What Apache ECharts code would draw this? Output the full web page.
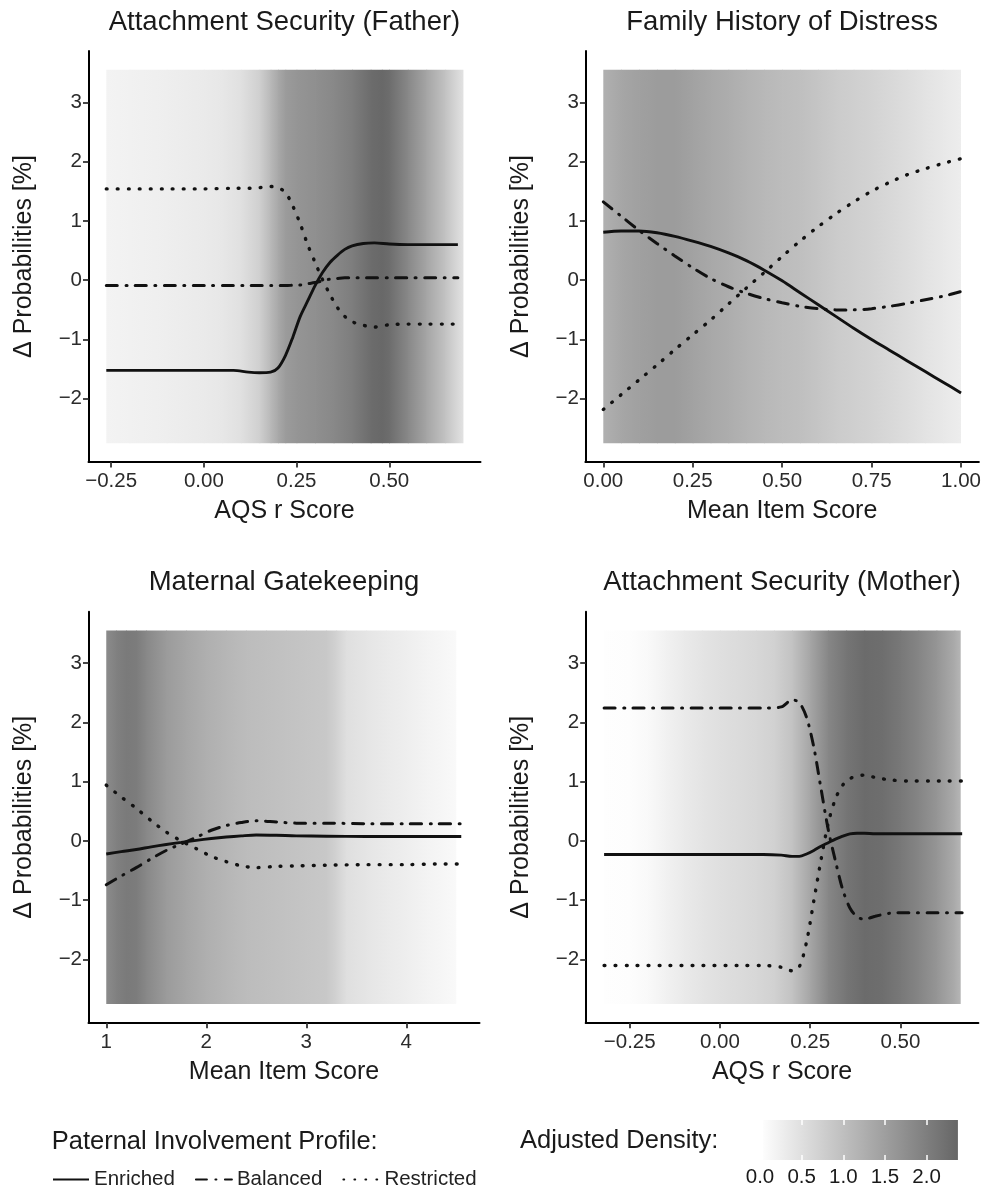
<!DOCTYPE html>
<html>
<head>
<meta charset="utf-8">
<script src="https://cdn.jsdelivr.net/npm/echarts@6.0.0/dist/echarts.min.js"></script>
<style>
  html, body { margin: 0; padding: 0; background: #fff; }
  #chart { width: 988px; height: 1191px; }
</style>
</head>
<body>
<div id="chart"></div>
<script>
// tick labels
const probTicks = [-2, -1, 0, 1, 2, 3];
const aqsTicks = [-0.25, 0, 0.25, 0.5];
const unitTicks = [0, 0.25, 0.5, 0.75, 1];
const gateTicks = [1, 2, 3, 4];
const densityTicks = [0, 0.5, 1, 1.5, 2];

// Attachment Security (Father)
const fatherX = [-0.263, -0.2, -0.1, 0.0, 0.08, 0.12, 0.15, 0.18, 0.2, 0.22, 0.24, 0.26, 0.28, 0.30, 0.32, 0.34, 0.36, 0.38, 0.40, 0.43, 0.46, 0.50, 0.55, 0.60, 0.65, 0.685];
const fatherEnriched = [-1.52, -1.52, -1.52, -1.52, -1.52, -1.55, -1.56, -1.55, -1.48, -1.27, -0.96, -0.61, -0.35, -0.09, 0.13, 0.30, 0.42, 0.52, 0.58, 0.62, 0.63, 0.61, 0.60, 0.60, 0.60, 0.60];
const fatherBalanced = [-0.09, -0.09, -0.09, -0.09, -0.09, -0.09, -0.09, -0.09, -0.09, -0.09, -0.085, -0.08, -0.06, -0.04, -0.01, 0.02, 0.03, 0.04, 0.04, 0.04, 0.04, 0.04, 0.04, 0.04, 0.04, 0.04];
const fatherRestricted = [1.54, 1.54, 1.54, 1.54, 1.55, 1.55, 1.56, 1.58, 1.56, 1.48, 1.25, 0.95, 0.60, 0.30, 0.01, -0.24, -0.46, -0.61, -0.70, -0.76, -0.79, -0.75, -0.74, -0.74, -0.74, -0.74];
const fatherDensX = [-0.263, -0.2, -0.1, 0.0, 0.05, 0.1, 0.15, 0.18, 0.2, 0.22, 0.25, 0.3, 0.35, 0.4, 0.45, 0.48, 0.5, 0.55, 0.6, 0.65, 0.7];
const fatherDens = [0.18, 0.21, 0.26, 0.32, 0.38, 0.48, 0.75, 1.10, 1.35, 1.55, 1.65, 1.74, 1.85, 2.02, 2.28, 2.34, 2.26, 1.85, 1.40, 0.95, 0.45];

// Family History of Distress
const historyX = [0, 0.05, 0.1, 0.15, 0.2, 0.25, 0.3, 0.35, 0.4, 0.45, 0.5, 0.55, 0.6, 0.65, 0.7, 0.75, 0.8, 0.85, 0.9, 0.95, 1.0];
const historyEnriched = [0.81, 0.83, 0.83, 0.80, 0.74, 0.66, 0.57, 0.46, 0.33, 0.17, -0.01, -0.21, -0.41, -0.61, -0.81, -1.0, -1.18, -1.36, -1.54, -1.72, -1.90];
const historyBalanced = [1.32, 1.08, 0.84, 0.62, 0.41, 0.21, 0.03, -0.11, -0.22, -0.31, -0.38, -0.44, -0.48, -0.50, -0.50, -0.48, -0.44, -0.39, -0.33, -0.27, -0.19];
const historyRestricted = [-2.18, -1.93, -1.68, -1.43, -1.17, -0.92, -0.67, -0.40, -0.13, 0.13, 0.40, 0.66, 0.90, 1.12, 1.32, 1.50, 1.65, 1.78, 1.88, 1.97, 2.05];
const historyDensX = [0, 0.05, 0.1, 0.15, 0.2, 0.25, 0.3, 0.35, 0.4, 0.45, 0.5, 0.55, 0.6, 0.65, 0.7, 0.75, 0.8, 0.85, 0.9, 0.95, 1.0];
const historyDens = [1.23, 1.38, 1.48, 1.54, 1.53, 1.45, 1.35, 1.27, 1.18, 1.10, 1.04, 0.99, 0.90, 0.81, 0.75, 0.68, 0.61, 0.53, 0.44, 0.36, 0.28];

// Maternal Gatekeeping
const gateX = [1.0, 1.15, 1.3, 1.45, 1.6, 1.75, 1.9, 2.05, 2.2, 2.35, 2.5, 2.7, 2.9, 3.2, 3.6, 4.0, 4.3, 4.55];
const gateEnriched = [-0.22, -0.18, -0.145, -0.10, -0.06, -0.025, 0.01, 0.04, 0.065, 0.085, 0.10, 0.095, 0.085, 0.08, 0.075, 0.075, 0.075, 0.075];
const gateBalanced = [-0.74, -0.59, -0.45, -0.30, -0.16, -0.05, 0.06, 0.18, 0.26, 0.31, 0.34, 0.32, 0.30, 0.30, 0.29, 0.29, 0.29, 0.29];
const gateRestricted = [0.94, 0.74, 0.55, 0.34, 0.15, 0.0, -0.13, -0.26, -0.35, -0.42, -0.45, -0.43, -0.42, -0.41, -0.40, -0.40, -0.39, -0.39];
const gateDensX = [1.0, 1.1, 1.2, 1.3, 1.4, 1.6, 1.8, 2.0, 2.2, 2.4, 2.6, 2.8, 3.0, 3.2, 3.3, 3.4, 3.6, 3.8, 4.0, 4.2, 4.4, 4.5];
const gateDens = [1.80, 1.98, 2.06, 2.04, 1.85, 1.55, 1.38, 1.25, 1.13, 1.04, 0.99, 0.95, 0.90, 0.86, 0.70, 0.50, 0.40, 0.33, 0.26, 0.19, 0.13, 0.10];

// Attachment Security (Mother)
const motherX = [-0.321, -0.25, -0.15, -0.05, 0.05, 0.12, 0.17, 0.2, 0.22, 0.24, 0.26, 0.28, 0.30, 0.32, 0.34, 0.36, 0.38, 0.40, 0.43, 0.47, 0.52, 0.58, 0.63, 0.671];
const motherEnriched = [-0.23, -0.23, -0.23, -0.23, -0.23, -0.23, -0.24, -0.26, -0.26, -0.22, -0.16, -0.09, -0.03, 0.03, 0.08, 0.12, 0.13, 0.13, 0.12, 0.12, 0.12, 0.12, 0.12, 0.12];
const motherBalanced = [2.24, 2.24, 2.24, 2.24, 2.24, 2.24, 2.26, 2.38, 2.33, 2.08, 1.58, 0.88, 0.19, -0.34, -0.82, -1.13, -1.28, -1.32, -1.27, -1.22, -1.21, -1.21, -1.21, -1.21];
const motherRestricted = [-2.10, -2.10, -2.10, -2.10, -2.10, -2.10, -2.13, -2.19, -2.12, -1.70, -1.01, -0.32, 0.30, 0.71, 0.94, 1.05, 1.09, 1.11, 1.07, 1.03, 1.01, 1.01, 1.01, 1.01];
const motherDensX = [-0.321, -0.25, -0.2, -0.15, -0.1, -0.05, 0.0, 0.05, 0.1, 0.15, 0.2, 0.25, 0.3, 0.35, 0.4, 0.45, 0.5, 0.55, 0.6, 0.65, 0.667];
const motherDens = [0.02, 0.03, 0.10, 0.22, 0.32, 0.42, 0.50, 0.56, 0.62, 0.72, 0.95, 1.40, 1.88, 2.15, 2.30, 2.25, 2.10, 1.90, 1.65, 1.30, 1.15];

// extent of the density raster and of the colour bar
const bandY = [-2.75, 3.55];
const densityRange = [0.036, 2.376];
const profiles = ['Enriched', 'Balanced', 'Restricted'];

const FONT = '"Liberation Sans", Arial, Helvetica, sans-serif';
const DENS_MAX = densityRange[1];

function gray(d) {
  const g = Math.round(255 - 153 * Math.min(d, DENS_MAX) / DENS_MAX);
  return 'rgb(' + g + ',' + g + ',' + g + ')';
}

function minus(s) {
  return s.replace('-', '\u2212');
}

const panels = [
  {
    title: 'Attachment Security (Father)', xName: 'AQS r Score',
    x: fatherX, lines: [fatherEnriched, fatherBalanced, fatherRestricted],
    densX: fatherDensX, dens: fatherDens,
    xMin: -0.311, xMax: 0.746, xTicks: aqsTicks, digits: 2,
    grid: { left: 88.5, top: 51, width: 392, height: 411 }
  },
  {
    title: 'Family History of Distress', xName: 'Mean Item Score',
    x: historyX, lines: [historyEnriched, historyBalanced, historyRestricted],
    densX: historyDensX, dens: historyDens,
    xMin: -0.05, xMax: 1.05, xTicks: unitTicks, digits: 2,
    grid: { left: 585.4, top: 51, width: 393.5, height: 411 }
  },
  {
    title: 'Maternal Gatekeeping', xName: 'Mean Item Score',
    x: gateX, lines: [gateEnriched, gateBalanced, gateRestricted],
    densX: gateDensX, dens: gateDens,
    xMin: 0.8225, xMax: 4.7325, xTicks: gateTicks, digits: 0,
    grid: { left: 88.5, top: 611.7, width: 391, height: 411 }
  },
  {
    title: 'Attachment Security (Mother)', xName: 'AQS r Score',
    x: motherX, lines: [motherEnriched, motherBalanced, motherRestricted],
    densX: motherDensX, dens: motherDens,
    xMin: -0.372, xMax: 0.716, xTicks: aqsTicks, digits: 2,
    grid: { left: 585.7, top: 611.7, width: 392.7, height: 411 }
  }
];

const lineTypes = {
  Enriched: { type: 'solid', cap: 'butt', width: 2.9 },
  Balanced: { type: [11, 8.5, 1, 8.5], cap: 'round', width: 3 },
  Restricted: { type: [0.8, 10.2], cap: 'round', width: 3.4 }
};

function renderBand(params, api) {
  const a = api.coord([api.value(0), bandY[1]]);
  const b = api.coord([api.value(1), bandY[0]]);
  const last = params.dataIndexInside === params.dataInsideLength - 1;
  return {
    type: 'rect',
    silent: true,
    shape: { x: a[0], y: a[1], width: b[0] - a[0] + (last ? 0 : 0.8), height: b[1] - a[1] },
    style: {
      fill: new echarts.graphic.LinearGradient(0, 0, 1, 0, [
        { offset: 0, color: gray(api.value(2)) },
        { offset: 1, color: gray(api.value(3)) }
      ])
    }
  };
}

function textEl(text, x, y, size, rotation, align) {
  return {
    type: 'text', x: x, y: y, rotation: rotation || 0, silent: true,
    style: {
      text: text, font: size + 'px ' + FONT, fill: '#1a1a1a',
      align: align || 'center', verticalAlign: 'middle',
      textAlign: align || 'center', textVerticalAlign: 'middle'
    }
  };
}

const grids = [], xAxes = [], yAxes = [], series = [], texts = [];

panels.forEach(function (p, i) {
  grids.push(Object.assign({ containLabel: false }, p.grid));
  xAxes.push({
    gridIndex: i, type: 'value', min: p.xMin, max: p.xMax,
    splitLine: { show: false },
    axisLine: { show: true, onZero: false, lineStyle: { color: '#000', width: 2 } },
    axisTick: { show: true, length: 5.5, customValues: p.xTicks, lineStyle: { color: '#333', width: 1.8 } },
    axisLabel: {
      customValues: p.xTicks, margin: 9, fontSize: 20.5, color: '#2b2b2b', fontFamily: FONT,
      formatter: function (v) { return minus(Number(v).toFixed(p.digits)); }
    }
  });
  yAxes.push({
    gridIndex: i, type: 'value', min: -3.065, max: 3.865,
    splitLine: { show: false },
    axisLine: { show: true, onZero: false, lineStyle: { color: '#000', width: 2 } },
    axisTick: { show: true, length: 5.5, customValues: probTicks, lineStyle: { color: '#333', width: 1.8 } },
    axisLabel: {
      customValues: probTicks, margin: 6.5, fontSize: 20.5, color: '#2b2b2b', fontFamily: FONT,
      formatter: function (v) { return minus(String(v)); }
    }
  });

  series.push({
    type: 'custom', xAxisIndex: i, yAxisIndex: i, z: 1, silent: true,
    renderItem: renderBand,
    encode: { x: [0, 1] },
    data: p.densX.slice(0, -1).map(function (x, k) {
      return [x, p.densX[k + 1], p.dens[k], p.dens[k + 1]];
    })
  });

  profiles.forEach(function (name, k) {
    series.push({
      name: name, type: 'line', xAxisIndex: i, yAxisIndex: i, z: 3,
      symbol: 'none', smooth: 0.3, silent: true,
      itemStyle: { color: '#111' },
      lineStyle: Object.assign({ color: '#111' }, lineTypes[name]),
      data: p.x.map(function (x, j) { return [x, p.lines[k][j]]; })
    });
  });

  const g = p.grid;
  const cx = g.left + g.width / 2;
  texts.push(textEl(p.title, cx, g.top - 29, 27.5));
  texts.push(textEl(p.xName, cx, g.top + g.height + 49, 25));
  texts.push(textEl('\u0394 Probabilities [%]', g.left - 64.5, g.top + g.height / 2, 25, Math.PI / 2));
});

// colour bar for adjusted density (grid 4, x axes 4 and 5, y axis 4)
grids.push({ left: 760, top: 1120, width: DENS_MAX * 83.3, height: 40, containLabel: false });
xAxes.push({
  gridIndex: 4, type: 'value', min: 0, max: DENS_MAX, z: 10,
  splitLine: { show: false },
  axisLine: { show: false },
  axisTick: { show: true, inside: true, length: 5, customValues: densityTicks.slice(1), lineStyle: { color: '#fff', width: 1.5 } },
  axisLabel: {
    customValues: densityTicks, margin: 7, fontSize: 20.5, color: '#1a1a1a', fontFamily: FONT,
    formatter: function (v) { return Number(v).toFixed(1); }
  }
});
xAxes.push({
  gridIndex: 4, type: 'value', position: 'top', min: 0, max: DENS_MAX, z: 10,
  splitLine: { show: false },
  axisLine: { show: false },
  axisTick: { show: true, inside: true, length: 5, customValues: densityTicks.slice(1), lineStyle: { color: '#fff', width: 1.5 } },
  axisLabel: { show: false }
});
yAxes.push({ gridIndex: 4, type: 'value', min: 0, max: 1, show: false });
series.push({
  type: 'custom', xAxisIndex: 4, yAxisIndex: 4, z: 1, silent: true,
  encode: { x: [0, 1] },
  renderItem: function (params, api) {
    const a = api.coord([api.value(0), 1]);
    const b = api.coord([api.value(1), 0]);
    return {
      type: 'rect', silent: true,
      shape: { x: a[0], y: a[1], width: b[0] - a[0], height: b[1] - a[1] },
      style: {
        fill: new echarts.graphic.LinearGradient(0, 0, 1, 0, [
          { offset: 0, color: gray(api.value(0)) },
          { offset: 1, color: gray(api.value(1)) }
        ])
      }
    };
  },
  data: [[densityRange[0], densityRange[1]]]
});

texts.push(textEl('Paternal Involvement Profile:', 51.7, 1142, 25.5, 0, 'left'));
texts.push(textEl('Adjusted Density:', 520, 1141, 25.5, 0, 'left'));

const chart = echarts.init(document.getElementById('chart'), null, { renderer: 'canvas' });
chart.setOption({
  animation: false,
  backgroundColor: '#fff',
  grid: grids,
  xAxis: xAxes,
  yAxis: yAxes,
  legend: {
    data: profiles, left: 52, top: 1169, orient: 'horizontal', padding: 0,
    itemWidth: 36, itemHeight: 14, itemGap: 20, selectedMode: false,
    itemStyle: { opacity: 0 },
    textStyle: { fontSize: 20.5, color: '#222', fontFamily: FONT }
  },
  graphic: { elements: texts },
  series: series
});
</script>
</body>
</html>
